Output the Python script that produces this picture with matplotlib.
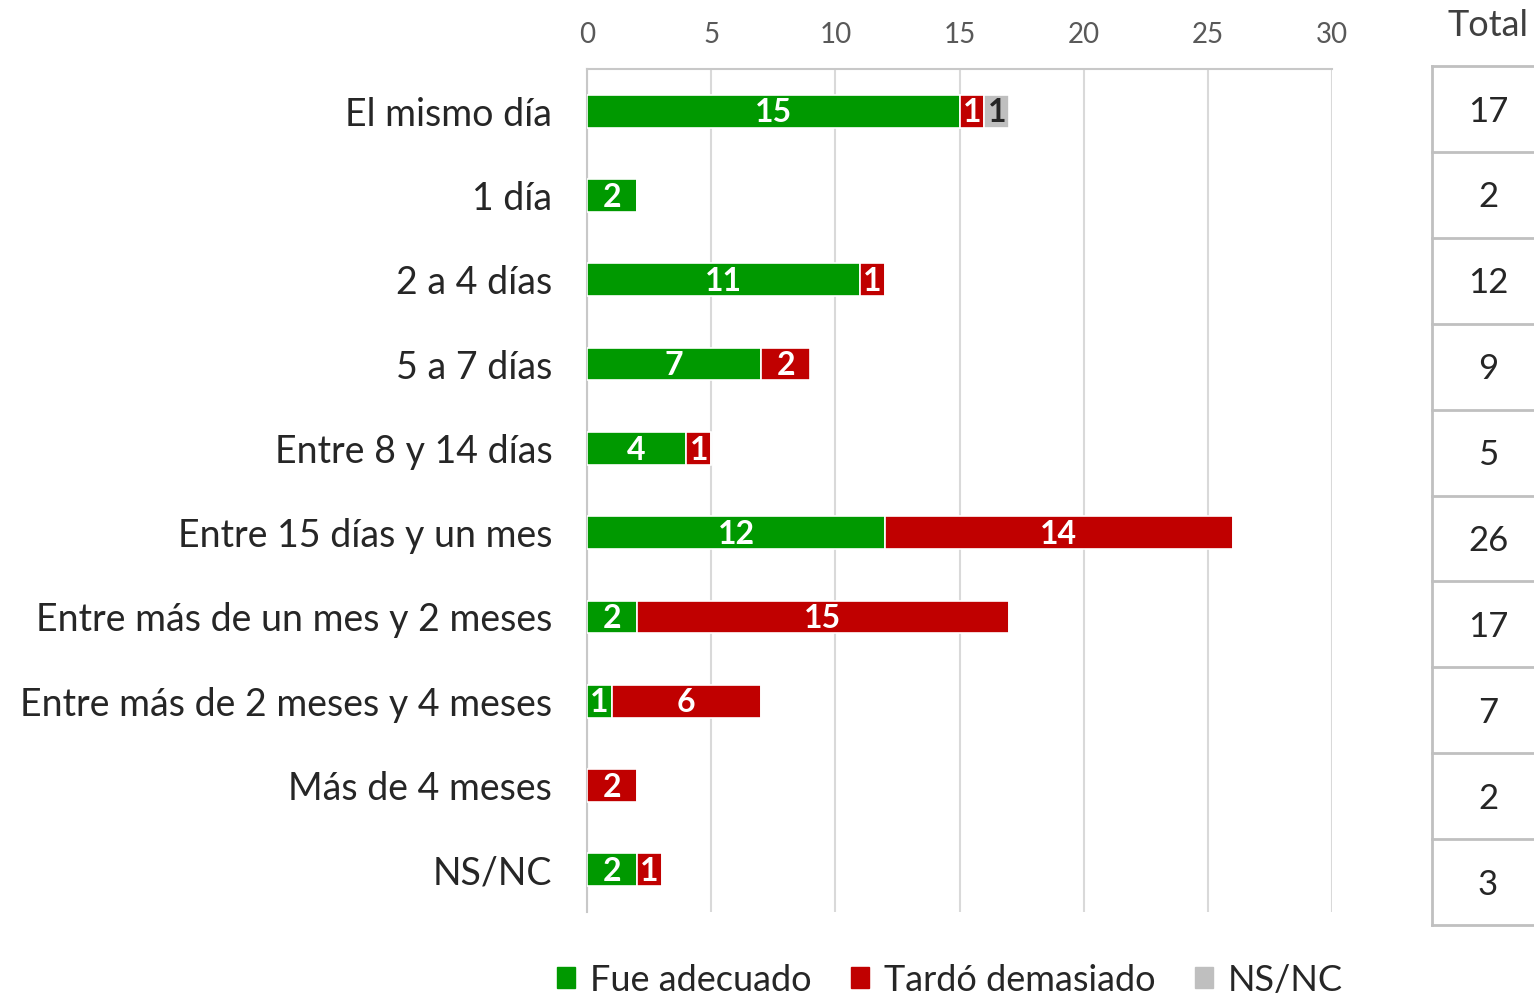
import numpy as np
import matplotlib
matplotlib.use('Agg')
import matplotlib.pyplot as plt
from matplotlib.patches import Patch

plt.rcParams['font.family'] = ['Lato', 'DejaVu Sans']

categories = ['El mismo día', '1 día', '2 a 4 días', '5 a 7 días', 'Entre 8 y 14 días',
              'Entre 15 días y un mes', 'Entre más de un mes y 2 meses',
              'Entre más de 2 meses y 4 meses', 'Más de 4 meses', 'NS/NC']
adecuado = [15, 2, 11, 7, 4, 12, 2, 1, 0, 2]
tardo = [1, 0, 1, 2, 1, 14, 15, 6, 2, 1]
nsnc = [1, 0, 0, 0, 0, 0, 0, 0, 0, 0]
totals = [17, 2, 12, 9, 5, 26, 17, 7, 2, 3]
series_names = ['Fue adecuado', 'Tardó demasiado', 'NS/NC']

colors = ['#009900', '#C00000', '#BFBFBF']
text_colors = ['white', 'white', '#262626']

fig = plt.figure(figsize=(15.34, 9.96), dpi=100)
ax = fig.add_axes([587/1534, 1 - 912/996, (1332-587)/1534, (912-69)/996])

y = np.arange(len(categories))
left = np.zeros(len(categories))
for vals, col, tcol in zip([adecuado, tardo, nsnc], colors, text_colors):
    vals = np.array(vals)
    ax.barh(y, vals, left=left, height=0.39, color=col, edgecolor='white', linewidth=1.2, zorder=3)
    for yi, v, l in zip(y, vals, left):
        if v > 0:
            ax.text(l + v / 2, yi + 0.02, str(v), ha='center', va='center', color=tcol,
                    fontsize=23, fontweight='bold', zorder=4)
    left = left + vals

ax.set_xlim(0, 30)
ax.set_ylim(len(categories) - 0.5, -0.5)
ax.set_xticks(range(0, 31, 5))
ax.xaxis.tick_top()
ax.tick_params(axis='x', length=0, labelsize=20, labelcolor='#595959', pad=15)
ax.set_yticks(y)
ax.set_yticklabels(categories)
ax.tick_params(axis='y', length=0, labelsize=27, labelcolor='#262626', pad=25)
ax.grid(axis='x', color='#D9D9D9', linewidth=1.5, zorder=0)
for s in ['right', 'bottom']:
    ax.spines[s].set_visible(False)
ax.spines['top'].set_color('#C8C8C8')
ax.spines['left'].set_color('#C8C8C8')
ax.spines['top'].set_linewidth(1.5)
ax.spines['left'].set_linewidth(1.5)

# Total table on the right
tax = fig.add_axes([1432/1534, 1 - 925/996, 1 - 1432/1534, (925-66)/996])
tax.set_xlim(0, 1)
tax.set_ylim(len(totals), 0)
tax.axis('off')
for i in range(len(totals) + 1):
    tax.plot([0, 1], [i, i], color='#C0C0C0', linewidth=2, clip_on=False)
tax.plot([0, 0], [0, len(totals)], color='#C0C0C0', linewidth=2, clip_on=False)
for i, t in enumerate(totals):
    tax.text(0.55, i + 0.53, str(t), ha='center', va='center', fontsize=25, color='#262626')
fig.text(1488/1534, 1 - 25/996, 'Total', ha='center', va='center', fontsize=26, color='#404040')

handles = [Patch(color=c) for c in colors]
fig.legend(handles, series_names, loc='center', bbox_to_anchor=(950/1534, 1 - 980/996),
           ncol=3, frameon=False, fontsize=26, handlelength=0.5, handleheight=0.5,
           handletextpad=0.4, columnspacing=1.1, labelcolor='#262626')

fig.savefig('out.png', dpi=100)
